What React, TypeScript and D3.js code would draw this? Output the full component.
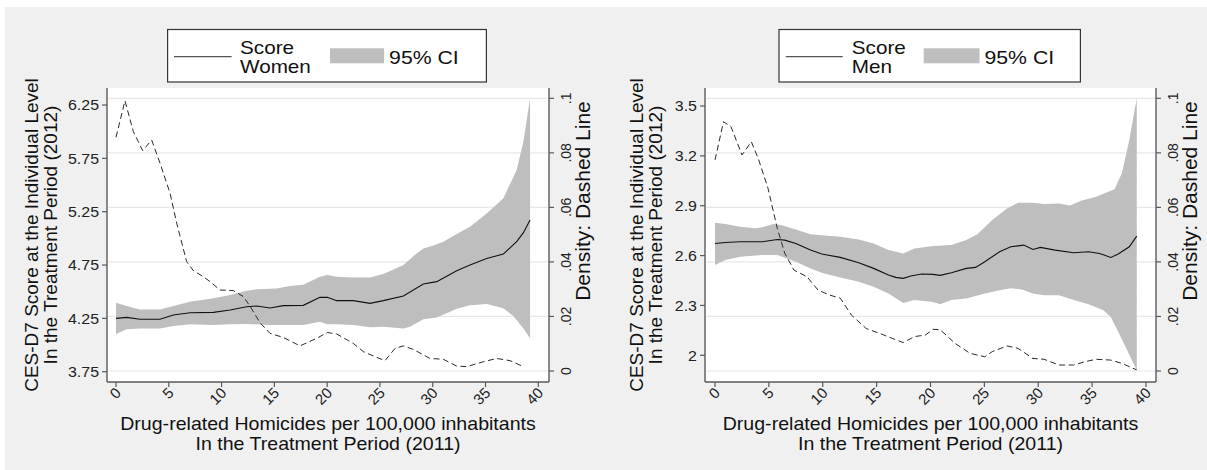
import React, { useEffect } from "react";
import * as d3 from "d3";

// ---------- DATA ----------
const xTicks = [0, 5, 10, 15, 20, 25, 30, 35, 40];
const densityTicks = [0, 0.02, 0.04, 0.06, 0.08, 0.1];
const densityTickLabels = ["0", ".02", ".04", ".06", ".08", ".1"];

const womenScoreTicks = [3.75, 4.25, 4.75, 5.25, 5.75, 6.25];
const womenScoreTickLabels = ["3.75", "4.25", "4.75", "5.25", "5.75", "6.25"];
const menScoreTicks = [2, 2.3, 2.6, 2.9, 3.2, 3.5];
const menScoreTickLabels = ["2", "2.3", "2.6", "2.9", "3.2", "3.5"];

const womenScore: [number, number][] = [
  [0, 4.25], [1.01, 4.259], [2.27, 4.241], [4.17, 4.241], [5.43, 4.281], [7.01, 4.303],
  [9.22, 4.306], [10.8, 4.328], [12.38, 4.359], [13.32, 4.366], [14.59, 4.347], [15.85, 4.369],
  [17.74, 4.372], [19.32, 4.447], [20.02, 4.447], [20.9, 4.416], [22.48, 4.416], [24.06, 4.391],
  [25.32, 4.416], [27.22, 4.459], [29.11, 4.572], [30.38, 4.594], [32.27, 4.697], [33.53, 4.75],
  [35.11, 4.812], [36.69, 4.853], [37.95, 4.969], [38.59, 5.053], [39.22, 5.172],
];
const womenHi: [number, number][] = [
  [0, 4.397], [1.01, 4.366], [2.27, 4.334], [4.17, 4.334], [5.43, 4.366], [7.01, 4.406],
  [9.22, 4.438], [10.8, 4.469], [12.38, 4.509], [13.32, 4.522], [15.22, 4.531], [16.48, 4.553],
  [17.74, 4.566], [19.32, 4.641], [20.02, 4.656], [20.9, 4.641], [22.48, 4.634], [24.06, 4.634],
  [25.32, 4.666], [27.22, 4.75], [28.48, 4.859], [29.11, 4.906], [30.06, 4.934], [31.01, 4.969],
  [32.27, 5.041], [33.53, 5.109], [35.11, 5.234], [36.69, 5.375], [37.95, 5.641], [38.59, 5.906],
  [39.22, 6.3125],
];
const womenLo: [number, number][] = [
  [0, 4.103], [1.01, 4.147], [2.27, 4.156], [4.17, 4.156], [5.43, 4.178], [7.01, 4.194],
  [9.22, 4.1875], [10.8, 4.194], [12.38, 4.197], [14.59, 4.1875], [16.48, 4.1875], [17.74, 4.1875],
  [19.32, 4.219], [20.02, 4.194], [20.9, 4.194], [22.48, 4.1875], [24.06, 4.166], [25.32, 4.172],
  [27.22, 4.156], [27.85, 4.172], [29.11, 4.241], [30.38, 4.259], [31.64, 4.3125], [32.27, 4.341],
  [33.53, 4.372], [35.11, 4.384], [36.69, 4.344], [37.64, 4.272], [38.59, 4.156], [39.22, 4.0625],
];
const womenDensity: [number, number][] = [
  [0, 0.0857], [0.85, 0.0991], [1.64, 0.0878], [2.53, 0.0808], [3.38, 0.0847], [4.17, 0.0762],
  [5.12, 0.0652], [5.75, 0.0542], [6.69, 0.0401], [7.33, 0.0368], [8.27, 0.0346], [8.9, 0.0328],
  [9.85, 0.0297], [11.11, 0.0295], [12.06, 0.0273], [12.69, 0.0238], [13.64, 0.0177], [14.59, 0.0138],
  [15.85, 0.0123], [17.43, 0.0092], [19.01, 0.012], [20.02, 0.0141], [20.9, 0.0136], [22.48, 0.0101],
  [23.43, 0.0071], [24.69, 0.005], [25.48, 0.0038], [26.43, 0.0083], [27.22, 0.0092], [28.17, 0.0079],
  [29.74, 0.0046], [31.0, 0.0043], [32.27, 0.0018], [33.22, 0.0016], [34.8, 0.0034], [36.06, 0.0046],
  [37.32, 0.0038], [38.59, 0.0016],
];

const menScore: [number, number][] = [
  [0, 2.673], [0.96, 2.679], [2.34, 2.683], [4.4, 2.683], [5.78, 2.697], [6.47, 2.693],
  [7.5, 2.673], [8.87, 2.633], [9.91, 2.609], [11.63, 2.589], [13.34, 2.557], [14.72, 2.523],
  [16.1, 2.483], [16.78, 2.469], [17.47, 2.463], [18.16, 2.477], [19.19, 2.489], [20.22, 2.487],
  [20.91, 2.481], [21.94, 2.497], [23.32, 2.523], [24.18, 2.529], [25.04, 2.563], [26.41, 2.623],
  [27.45, 2.653], [28.65, 2.663], [29.51, 2.637], [30.2, 2.649], [31.57, 2.633], [33.29, 2.617],
  [34.67, 2.623], [35.7, 2.613], [36.73, 2.589], [37.42, 2.609], [38.45, 2.653], [39.14, 2.717],
];
const menHi: [number, number][] = [
  [0, 2.798], [0.96, 2.79], [2.34, 2.774], [3.71, 2.764], [4.4, 2.77], [5.43, 2.79],
  [6.12, 2.784], [7.5, 2.757], [8.87, 2.729], [9.91, 2.723], [11.63, 2.713], [13.34, 2.697],
  [14.72, 2.673], [16.1, 2.633], [17.47, 2.613], [18.5, 2.643], [20.22, 2.657], [21.94, 2.663],
  [23.32, 2.693], [24.35, 2.729], [25.73, 2.814], [27.1, 2.884], [28.13, 2.918], [29.51, 2.918],
  [30.54, 2.91], [31.92, 2.914], [32.95, 2.902], [33.98, 2.93], [35.36, 2.954], [37.08, 2.999],
  [37.76, 3.095], [38.45, 3.296], [39.14, 3.547],
];
const menLo: [number, number][] = [
  [0, 2.543], [0.96, 2.573], [2.34, 2.593], [4.4, 2.603], [5.78, 2.603], [7.5, 2.563],
  [8.87, 2.522], [9.91, 2.496], [11.63, 2.468], [13.34, 2.442], [14.72, 2.412], [16.1, 2.372],
  [17.47, 2.315], [18.5, 2.332], [20.22, 2.321], [20.91, 2.307], [21.94, 2.332], [23.32, 2.342],
  [25.04, 2.372], [26.41, 2.392], [27.45, 2.404], [28.48, 2.396], [29.51, 2.372], [30.54, 2.362],
  [31.92, 2.362], [33.29, 2.332], [34.67, 2.307], [36.05, 2.271], [36.73, 2.231], [37.42, 2.141],
  [38.11, 2.05], [39.14, 1.91],
];
const menDensity: [number, number][] = [
  [0, 0.0774], [0.79, 0.0914], [1.48, 0.0896], [2.51, 0.0792], [3.37, 0.0841], [4.06, 0.0774],
  [4.92, 0.067], [5.78, 0.0523], [6.47, 0.0432], [7.33, 0.037], [8.53, 0.0346], [9.56, 0.0297],
  [10.59, 0.0279], [11.63, 0.0267], [12.66, 0.0205], [14.03, 0.0156], [15.41, 0.0136], [16.44, 0.012],
  [17.47, 0.0104], [18.5, 0.0126], [19.54, 0.0132], [20.22, 0.0153], [20.91, 0.0151], [22.29, 0.0101],
  [23.66, 0.0065], [25.04, 0.0052], [25.73, 0.0071], [27.1, 0.0092], [28.13, 0.0083], [29.51, 0.0046],
  [30.54, 0.0043], [31.92, 0.0022], [33.29, 0.0022], [34.33, 0.0034], [35.36, 0.0043], [36.73, 0.004],
  [37.76, 0.0028], [39.14, 0.0004],
];

const xTitle = ["Drug-related Homicides per 100,000 inhabitants", "In the Treatment Period (2011)"];
const yTitle = ["CES-D7 Score at the Individual Level", "In the Treatment Period (2012)"];
const densityTitle = "Density: Dashed Line";

// ---------- STYLE / LAYOUT ----------
const FONT = "'Liberation Sans', Arial, Helvetica, sans-serif";
const BG = "#f0f0f0";
const CI = "#bebebe";
const AXIS = "#5a5a5a";
const GRID = "#e8e8e8";
const SX = 1.1; // horizontal stretch of upright text

const PLOT_TOP = 88;
const PLOT_BOTTOM = 382;

type Panel = {
  plotX0: number; plotX1: number; xRange: [number, number];
  scoreDomain: [number, number]; scoreRange: [number, number];
  scoreTicks: number[]; scoreTickLabels: string[];
  score: [number, number][]; hi: [number, number][]; lo: [number, number][]; density: [number, number][];
  yTitleX: [number, number];
  legend: { x: number; w: number; lineX0: number; lineX1: number; textX: number; swX0: number; swX1: number; ciX: number; label: string };
};

const panels: Panel[] = [
  {
    plotX0: 107, plotX1: 549, xRange: [116, 538.3],
    scoreDomain: [3.75, 6.25], scoreRange: [371.7, 105],
    scoreTicks: womenScoreTicks, scoreTickLabels: womenScoreTickLabels,
    score: womenScore, hi: womenHi, lo: womenLo, density: womenDensity,
    yTitleX: [31.7, 50],
    legend: { x: 167.6, w: 318.8, lineX0: 6.4, lineX1: 64, textX: 72.4, swX0: 162.4, swX1: 216.5, ciX: 221.5, label: "Women" },
  },
  {
    plotX0: 705, plotX1: 1156, xRange: [715, 1146],
    scoreDomain: [2, 3.5], scoreRange: [355.3, 106],
    scoreTicks: menScoreTicks, scoreTickLabels: menScoreTickLabels,
    score: menScore, hi: menHi, lo: menLo, density: menDensity,
    yTitleX: [636.7, 655],
    legend: { x: 779, w: 301.4, lineX0: 6.8, lineX1: 63.7, textX: 72.8, swX0: 144.7, swX1: 200.5, ciX: 205.5, label: "Men" },
  },
];

function HText({ x, y, size, anchor = "start", children, fill = "#111", sx = SX }: any) {
  return (
    <g transform={`translate(${x},${y}) scale(${sx},1)`}>
      <text x={0} y={0} fontSize={size} textAnchor={anchor} fill={fill} fontFamily={FONT}>
        {children}
      </text>
    </g>
  );
}

function PanelView({ p }: { p: Panel }) {
  const x = d3.scaleLinear().domain([0, 40]).range(p.xRange);
  const y = d3.scaleLinear().domain(p.scoreDomain).range(p.scoreRange);
  const yd = d3.scaleLinear().domain([0, 0.1]).range([371, 98.3]);

  const line = d3.line<[number, number]>().x((d) => x(d[0])).y((d) => y(d[1]));
  const dline = d3.line<[number, number]>().x((d) => x(d[0])).y((d) => yd(d[1]));
  const band = [...p.hi, ...p.lo.slice().reverse()];
  const bandPath = line(band) + "Z";

  const L = p.legend;
  const midY = (PLOT_TOP + PLOT_BOTTOM) / 2;

  return (
    <g>
      {/* plot region */}
      <rect x={p.plotX0} y={PLOT_TOP} width={p.plotX1 - p.plotX0} height={PLOT_BOTTOM - PLOT_TOP} fill="#fff" />
      {densityTicks.map((t) => (
        <line key={"g" + t} x1={p.plotX0 + 1} x2={p.plotX1 - 1} y1={yd(t)} y2={yd(t)} stroke={GRID} strokeWidth={1.2} />
      ))}
      <path d={bandPath} fill={CI} stroke="none" />
      <path d={line(p.score) || ""} fill="none" stroke="#111" strokeWidth={1.1} />
      <path d={dline(p.density) || ""} fill="none" stroke="#2a2a2a" strokeWidth={1} strokeDasharray="6,3.5" />

      {/* axes */}
      <line x1={p.plotX0} x2={p.plotX0} y1={PLOT_TOP} y2={PLOT_BOTTOM} stroke={AXIS} strokeWidth={1.4} />
      <line x1={p.plotX1} x2={p.plotX1} y1={PLOT_TOP} y2={PLOT_BOTTOM} stroke={AXIS} strokeWidth={1.4} />
      <line x1={p.plotX0} x2={p.plotX1} y1={PLOT_BOTTOM} y2={PLOT_BOTTOM} stroke={AXIS} strokeWidth={1.4} />

      {/* left score ticks */}
      {p.scoreTicks.map((t, i) => (
        <g key={"l" + t}>
          <line x1={p.plotX0 - 5} x2={p.plotX0} y1={y(t)} y2={y(t)} stroke={AXIS} strokeWidth={1.2} />
          <HText x={p.plotX0 - 8} y={y(t) + 5.2} size={14.5} anchor="end" fill="#222">{p.scoreTickLabels[i]}</HText>
        </g>
      ))}
      {/* right density ticks */}
      {densityTicks.map((t, i) => (
        <g key={"r" + t}>
          <line x1={p.plotX1} x2={p.plotX1 + 5} y1={yd(t)} y2={yd(t)} stroke={AXIS} strokeWidth={1.2} />
          <text transform={`translate(${p.plotX1 + 17},${yd(t)}) rotate(-90)`} textAnchor="middle" dominantBaseline="central"
            fontSize={14} fill="#222" fontFamily={FONT}>{densityTickLabels[i]}</text>
        </g>
      ))}
      {/* x ticks */}
      {xTicks.map((t) => (
        <g key={"x" + t}>
          <line x1={x(t)} x2={x(t)} y1={PLOT_BOTTOM} y2={PLOT_BOTTOM + 5} stroke={AXIS} strokeWidth={1.2} />
          <text transform={`translate(${x(t) + 2},${PLOT_BOTTOM + 8}) rotate(-45)`} textAnchor="end" dominantBaseline="central"
            fontSize={15} fill="#222" fontFamily={FONT}>{t}</text>
        </g>
      ))}

      {/* titles */}
      <HText x={(p.plotX0 + p.plotX1) / 2} y={430} size={17.8} anchor="middle">{xTitle[0]}</HText>
      <HText x={(p.plotX0 + p.plotX1) / 2} y={449.5} size={17.8} anchor="middle">{xTitle[1]}</HText>
      {yTitle.map((s, i) => (
        <text key={s} transform={`translate(${p.yTitleX[i]},${midY}) rotate(-90)`} textAnchor="middle" dominantBaseline="central"
          fontSize={19} fill="#111" fontFamily={FONT}>{s}</text>
      ))}
      <text transform={`translate(${p.plotX1 + 33},201) rotate(-90)`} textAnchor="middle" dominantBaseline="central"
        fontSize={21} fill="#111" fontFamily={FONT}>{densityTitle}</text>

      {/* legend */}
      <rect x={L.x} y={29.5} width={L.w} height={52.5} fill="#fff" stroke="#333" strokeWidth={1.2} />
      <line x1={L.x + L.lineX0} x2={L.x + L.lineX1} y1={56.7} y2={56.7} stroke="#555" strokeWidth={1.2} />
      <HText x={L.x + L.textX} y={54.3} size={18} sx={1.15}>Score</HText>
      <HText x={L.x + L.textX} y={73.3} size={18} sx={1.15}>{L.label}</HText>
      <rect x={L.x + L.swX0} y={48.3} width={L.swX1 - L.swX0} height={15} fill={CI} />
      <HText x={L.x + L.ciX} y={64} size={18} sx={1.18}>95% CI</HText>
    </g>
  );
}

export default function App() {
  useEffect(() => {
    document.body.style.margin = "0";
  }, []);
  const W = 1207, H = 470;
  return (
    <svg width={W} height={H} style={{ position: "absolute", left: 0, top: 0, display: "block" }}>
      <rect x={0} y={0} width={W} height={H} fill="#fff" />
      <rect x={5} y={7} width={W - 5} height={H - 7} fill={BG} />
      {panels.map((p, i) => (
        <PanelView key={i} p={p} />
      ))}
    </svg>
  );
}
